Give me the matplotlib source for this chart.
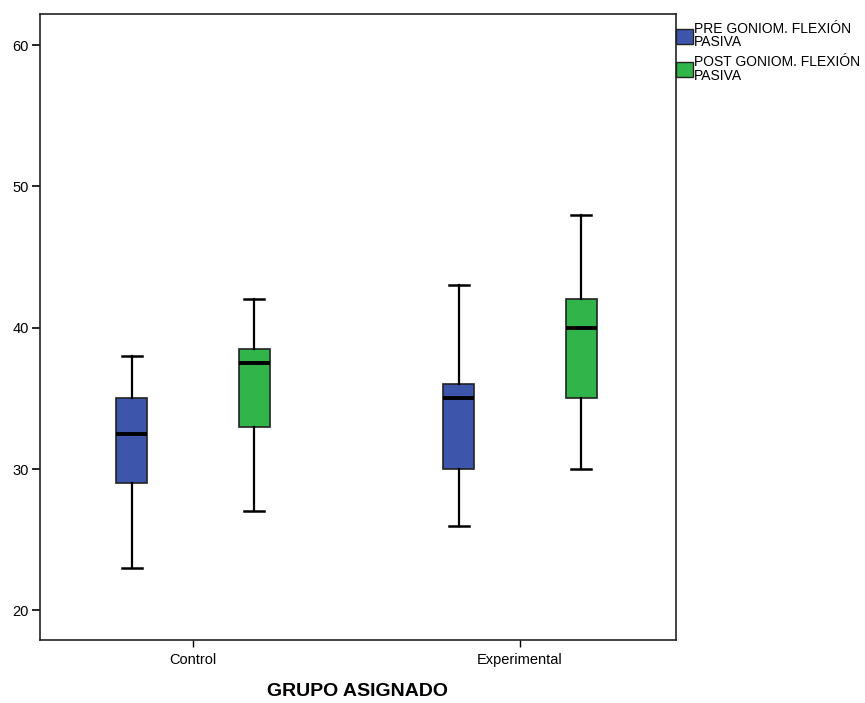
import matplotlib.pyplot as plt
from matplotlib.patches import Patch

plt.rcParams['font.family'] = ['Liberation Sans', 'DejaVu Sans']

groups = ["Control", "Experimental"]
series = ["PRE GONIOM. FLEXIÓN\nPASIVA", "POST GONIOM. FLEXIÓN\nPASIVA"]
colors = ["#3d55ab", "#31b54a"]

# [group][series] -> (whislo, q1, med, q3, whishi)
pre_stats = [(23, 29, 32.5, 35, 38), (26, 30, 35, 36, 43)]
post_stats = [(27, 33, 37.5, 38.5, 42), (30, 35, 40, 42, 48)]

fig = plt.figure(figsize=(8.65, 7.03), dpi=100)
ax = fig.add_axes([0.046, 0.0896, 0.7355, 0.8904])

offset = 0.187
width = 0.095
for s, (stats, col) in enumerate(zip([pre_stats, post_stats], colors)):
    bxp = []
    pos = []
    for g, st in enumerate(stats):
        lo, q1, med, q3, hi = st
        bxp.append(dict(whislo=lo, q1=q1, med=med, q3=q3, whishi=hi, fliers=[]))
        pos.append(g + (offset if s else -offset))
    ax.bxp(bxp, positions=pos, widths=width, patch_artist=True, showfliers=False,
           capwidths=width * 0.65,
           boxprops=dict(facecolor=col, edgecolor="#222222", linewidth=1.2),
           medianprops=dict(color="black", linewidth=2.8),
           whiskerprops=dict(color="black", linewidth=1.6),
           capprops=dict(color="black", linewidth=1.8))

ax.set_xlim(-0.468, 1.477)
ax.set_ylim(17.9, 62.2)
ax.set_xticks([0, 1])
ax.set_xticklabels(groups, fontsize=10.5)
ax.set_yticks([20, 30, 40, 50, 60])
ax.tick_params(axis='y', labelsize=10.5, length=6, width=1.2, pad=2)
ax.tick_params(axis='x', length=5, width=1, pad=4)
for sp in ax.spines.values():
    sp.set_linewidth(1.2)
    sp.set_color("#222222")
ax.set_xlabel("GRUPO ASIGNADO", fontsize=14, fontweight='bold', labelpad=12)

handles = [Patch(facecolor=c, edgecolor="#222222") for c in colors]
leg = ax.legend(handles, series, loc='upper left', bbox_to_anchor=(1.0, 0.988),
                frameon=False, fontsize=10, handlelength=1.2, handleheight=1.3,
                handletextpad=0.1, borderaxespad=0, labelspacing=0.45,
                borderpad=0)
for t in leg.get_texts():
    t.set_linespacing(0.95)

fig.savefig("out.png", dpi=100)
